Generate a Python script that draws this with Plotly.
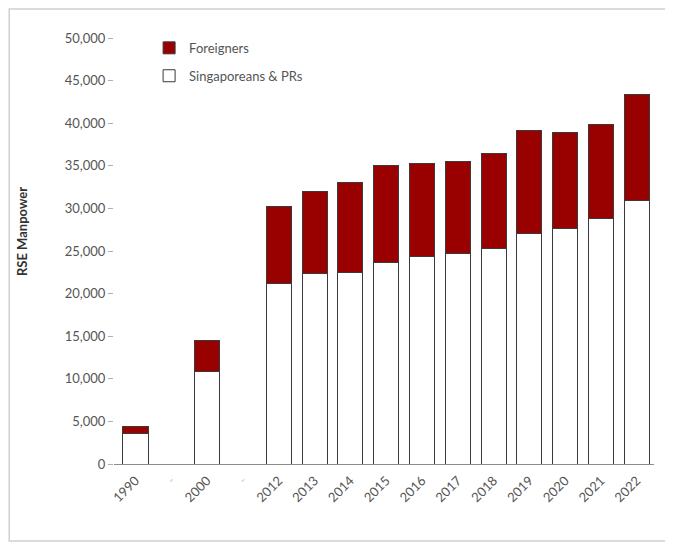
import plotly.graph_objects as go

# --- data ---
years = ["1990", "gap1", "2000", "gap2", "2012", "2013", "2014", "2015",
         "2016", "2017", "2018", "2019", "2020", "2021", "2022"]
tick_labels = ["1990", "<span style='color:#c8c8c8'>-</span>", "2000",
               "<span style='color:#c8c8c8'>-</span>", "2012", "2013", "2014",
               "2015", "2016", "2017", "2018", "2019", "2020", "2021", "2022"]
locals_pr = [3600, None, 10900, None, 21200, 22400, 22500, 23700,
             24300, 24700, 25300, 27100, 27600, 28800, 30900]
totals = [4400, None, 14500, None, 30200, 32000, 33000, 35000,
          35300, 35500, 36400, 39200, 38900, 39800, 43400]
foreigners = [None if t is None else t - l for t, l in zip(totals, locals_pr)]

FONT = "Lato, 'Open Sans', sans-serif"
RED = "#990000"

fig = go.Figure()
fig.add_trace(go.Bar(
    x=years, y=locals_pr, name="Singaporeans & PRs",
    marker=dict(color="white", line=dict(color="#3a3a3a", width=1)),
    legendgroup="b", legendrank=2,
))
fig.add_trace(go.Bar(
    x=years, y=foreigners, name="Foreigners",
    marker=dict(color=RED, line=dict(color="#3a3a3a", width=1)),
    legendgroup="a", legendrank=1,
))

# page body has an 8px margin, so the figure is sized to fit inside it
fig.update_layout(
    width=665, height=538,
    barmode="stack", bargap=0.3,
    paper_bgcolor="white", plot_bgcolor="white",
    margin=dict(l=106, r=19, t=30, b=82),
    font=dict(family=FONT, size=13, color="#555555"),
    showlegend=True,
    legend=dict(x=0.065, y=1.012, xanchor="left", yanchor="top",
                traceorder="grouped", tracegroupgap=8,
                font=dict(size=13, color="#555555"),
                bgcolor="rgba(0,0,0,0)"),
)

fig.update_xaxes(
    type="category", categoryorder="array", categoryarray=years,
    tickvals=years, ticktext=tick_labels, tickangle=-45,
    range=[-0.6, 14.48],
    showline=True, linecolor="#8c8c8c", linewidth=1,
    ticks="outside", ticklen=3, tickcolor="rgba(0,0,0,0)", showgrid=False,
    tickfont=dict(size=13, color="#555555"),
)
fig.update_yaxes(
    range=[0, 50000], dtick=5000, tickformat=",",
    showline=False, showgrid=False, zeroline=False,
    ticks="outside", ticklen=5, tickcolor="#b0b0b0",
    tickfont=dict(size=13, color="#555555"),
)

# y-axis title placed where the reference has it
fig.add_annotation(
    text="<b>RSE Manpower</b>", textangle=-90,
    xref="paper", yref="paper", x=-0.170, y=0.545,
    xanchor="center", yanchor="middle", showarrow=False,
    font=dict(size=13, color="#333333"),
)

# thin frame around the whole chart
fig.add_shape(
    type="rect", xref="paper", yref="paper",
    x0=-0.194, x1=1.024, y0=-0.181, y1=1.068,
    line=dict(color="#d0d0d0", width=1.5), fillcolor="rgba(0,0,0,0)",
    layer="below",
)

fig.write_html("out.html")
